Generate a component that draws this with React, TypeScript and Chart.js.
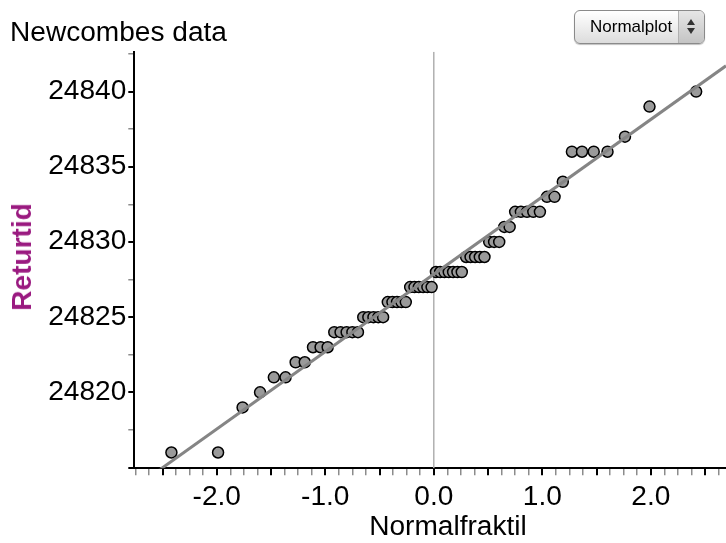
import React, { useEffect, useRef } from 'react';
import { Chart, registerables } from 'chart.js';
Chart.register(...registerables);

// Newcomb's passage times (sorted)
const returtid = [
  24816, 24816, 24819, 24820, 24821, 24821, 24822, 24822, 24823, 24823, 24823,
  24824, 24824, 24824, 24824, 24824, 24825, 24825, 24825, 24825, 24825,
  24826, 24826, 24826, 24826, 24826, 24827, 24827, 24827, 24827, 24827, 24827,
  24828, 24828, 24828, 24828, 24828, 24828, 24828, 24829, 24829, 24829, 24829, 24829,
  24830, 24830, 24830, 24831, 24831, 24832, 24832, 24832, 24832, 24832,
  24833, 24833, 24834, 24836, 24836, 24836, 24836, 24837, 24839, 24840,
];
// Normal quantiles (x positions)
const normalfraktil = [
  -2.418, -1.988, -1.762, -1.601, -1.474, -1.366, -1.273, -1.189, -1.113, -1.043,
  -0.978, -0.917, -0.859, -0.803, -0.750, -0.699, -0.650, -0.603, -0.556, -0.511,
  -0.467, -0.424, -0.381, -0.339, -0.298, -0.258, -0.218, -0.178, -0.138, -0.098,
  -0.059, -0.020, 0.020, 0.059, 0.098, 0.138, 0.178, 0.218, 0.258, 0.298,
  0.339, 0.381, 0.424, 0.467, 0.511, 0.556, 0.603, 0.650, 0.699, 0.750,
  0.803, 0.859, 0.917, 0.978, 1.043, 1.113, 1.189, 1.273, 1.366, 1.474,
  1.601, 1.762, 1.988, 2.418,
];
const fitLineX = [-2.76, 2.693];
const fitLineY = [24813.65, 24841.71];
const xRange = [-2.76, 2.693];
const yRange = [24814.95, 24842.65];
const xLabelValues = [-2, -1, 0, 1, 2];
const yLabelValues = [24820, 24825, 24830, 24835, 24840];

const FONT = '"Liberation Sans", Arial, Helvetica, sans-serif';
const FS = 27;
const SX = 1.04;
const CANVAS_W = 733; // chart area reaches the window edge; the rest is clipped

const stretchPlugin = {
  id: 'stretchText',
  beforeDraw(chart: any) {
    const ctx = chart.ctx as any;
    if (!ctx.__origFill) {
      const orig = ctx.fillText;
      ctx.__origFill = orig;
      ctx.fillText = function (t: string, x: number, y: number) {
        this.save();
        this.translate(x, y);
        this.scale(SX, 1);
        orig.call(this, t, 0, 0);
        this.restore();
      };
    }
  },
};

export default function App() {
  const ref = useRef<HTMLCanvasElement>(null);
  useEffect(() => {
    if (!ref.current) return;
    const pts = normalfraktil.map((x, i) => ({ x, y: returtid[i] }));
    const chart = new Chart(ref.current, {
      type: 'scatter',
      data: {
        datasets: [
          {
            data: fitLineX.map((x, i) => ({ x, y: fitLineY[i] })),
            showLine: true,
            pointRadius: 0,
            borderColor: '#858585',
            borderWidth: 3,
            order: 0,
          },
          {
            data: pts,
            pointRadius: 5.5,
            pointBackgroundColor: '#9a9a9a',
            pointBorderColor: '#000000',
            pointBorderWidth: 1.5,
            order: 1,
          },
          {
            data: [{ x: 0, y: yRange[0] }, { x: 0, y: yRange[1] }],
            showLine: true,
            pointRadius: 0,
            borderColor: '#b0b0b0',
            borderWidth: 1.5,
            order: 2,
          },
        ],
      },
      options: {
        animation: false,
        responsive: false,
        devicePixelRatio: 1,
        layout: { padding: { top: 51.7, left: 0, right: 0, bottom: 0 } },
        plugins: { legend: { display: false }, tooltip: { enabled: false } },
        scales: {
          x: {
            type: 'linear',
            min: xRange[0],
            max: xRange[1],
            afterFit: (s: any) => { s.height = 74.7; s.paddingLeft = 0; s.paddingRight = 0; },
            afterBuildTicks: (s: any) => {
              const t = [];
              for (let k = Math.ceil(xRange[0] * 8); k <= Math.floor(xRange[1] * 8); k++) t.push({ value: k / 8 });
              s.ticks = t;
            },
            border: { display: true, color: '#000', width: 2 },
            grid: {
              drawOnChartArea: false,
              drawTicks: true,
              tickLength: 7,
              color: (c: any) => (Math.abs((c.tick?.value ?? 0) * 2 - Math.round((c.tick?.value ?? 0) * 2)) < 1e-6 ? '#000' : '#8c8c8c'),
              lineWidth: (c: any) => (Math.abs((c.tick?.value ?? 0) * 2 - Math.round((c.tick?.value ?? 0) * 2)) < 1e-6 ? 2 : 1.5),
            },
            ticks: {
              autoSkip: false,
              maxRotation: 0,
              padding: 0,
              color: '#000',
              font: { family: FONT, size: FS, lineHeight: 1.64 },
              callback: (v: any) => (xLabelValues.some((l) => Math.abs(l - v) < 1e-6) ? Number(v).toFixed(1) : ''),
            },
          },
          y: {
            type: 'linear',
            min: yRange[0],
            max: yRange[1],
            afterFit: (s: any) => { s.width = 134.3; s.paddingTop = 0; s.paddingBottom = 0; },
            afterBuildTicks: (s: any) => {
              const t = [];
              for (let k = Math.ceil(yRange[0] / 2.5); k <= Math.floor(yRange[1] / 2.5); k++) t.push({ value: k * 2.5 });
              s.ticks = t;
            },
            border: { display: true, color: '#000', width: 2 },
            grid: {
              drawOnChartArea: false,
              drawTicks: true,
              tickLength: 6,
              color: (c: any) => ((c.tick?.value ?? 0) % 5 === 0 ? '#000' : '#8c8c8c'),
              lineWidth: (c: any) => ((c.tick?.value ?? 0) % 5 === 0 ? 2 : 1.5),
            },
            ticks: {
              autoSkip: false,
              padding: 2,
              color: '#000',
              font: { family: FONT, size: FS },
              callback: (v: any) => (yLabelValues.includes(Number(v)) ? String(v) : ''),
            },
          },
        },
      },
      plugins: [stretchPlugin],
    } as any);
    return () => chart.destroy();
  }, []);

  const stretched = (sx: number): React.CSSProperties => ({ display: 'inline-block', transform: `scaleX(${sx})`, transformOrigin: 'left center', whiteSpace: 'nowrap' });

  return (
    <div style={{ position: 'fixed', left: 0, top: 0, width: 726, height: 543, background: '#fff', overflow: 'hidden', fontFamily: FONT }}>
      <canvas ref={ref} width={CANVAS_W} height={543} style={{ position: 'absolute', left: 0, top: 0, width: CANVAS_W, height: 543 }} />
      <div style={{ position: 'absolute', left: 10, top: 17, fontSize: FS, lineHeight: '30px', color: '#000' }}>
        <span style={stretched(SX)}>Newcombes data</span>
      </div>
      <div style={{ position: 'absolute', left: 22, top: 257, fontSize: FS, fontWeight: 'bold', color: '#9a1a80', lineHeight: '30px', whiteSpace: 'nowrap', transform: `translate(-50%, -50%) rotate(-90deg) scaleX(${SX})` }}>
        Returtid
      </div>
      <div style={{ position: 'absolute', left: 448, top: 526, fontSize: FS, color: '#000', lineHeight: '30px', whiteSpace: 'nowrap', transform: `translate(-50%, -50%) scaleX(${SX})` }}>
        Normalfraktil
      </div>
      <div style={{ position: 'absolute', left: 574, top: 10, width: 131, height: 34, boxSizing: 'border-box', border: '1px solid #8a8a8a', borderRadius: 6, background: 'linear-gradient(#ffffff, #f0f0f0 45%, #dcdcdc)', boxShadow: '0 1px 1px rgba(0,0,0,0.25)', overflow: 'hidden' }}>
        <div style={{ position: 'absolute', left: 15, top: 0, height: 32, lineHeight: '32px', fontSize: 17, color: '#000' }}>
          <span style={stretched(1.0)}>Normalplot</span>
        </div>
        <div style={{ position: 'absolute', right: 0, top: 0, width: 25, height: 32, borderLeft: '1px solid #b0b0b0', background: 'linear-gradient(#e6e6e6, #c4c4c4)' }}>
          <div style={{ position: 'absolute', left: 8, top: 8, width: 0, height: 0, borderLeft: '4px solid transparent', borderRight: '4px solid transparent', borderBottom: '6px solid #333' }} />
          <div style={{ position: 'absolute', left: 8, top: 17, width: 0, height: 0, borderLeft: '4px solid transparent', borderRight: '4px solid transparent', borderTop: '6px solid #333' }} />
        </div>
      </div>
    </div>
  );
}
